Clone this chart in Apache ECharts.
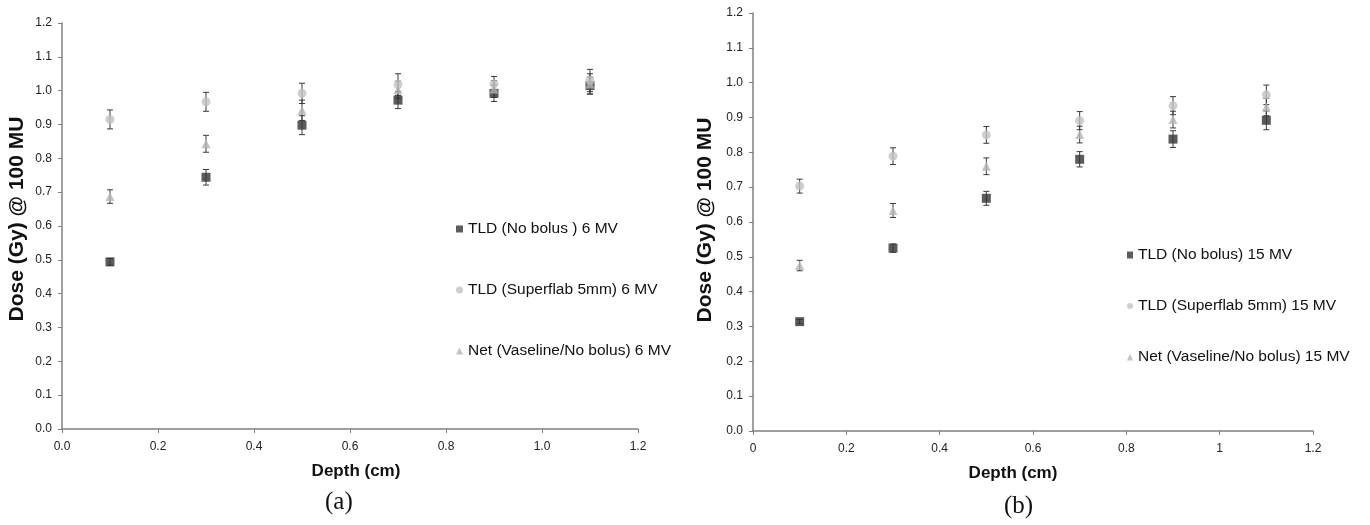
<!DOCTYPE html>
<html>
<head>
<meta charset="utf-8">
<title>Dose vs depth</title>
<script src="https://cdn.jsdelivr.net/npm/echarts@6/dist/echarts.min.js"></script>
<style>
  html, body { margin: 0; padding: 0; background: #fff; }
  #main { width: 1370px; height: 525px; }
</style>
</head>
<body>
<div id="main"></div>
<script>
// depths (cm) shared by both panels
var depth = [0.1, 0.3, 0.5, 0.7, 0.9, 1.1];

// (a) 6 MV
var noBolus6 = [0.494, 0.744, 0.898, 0.972, 0.992, 1.015];
var noBolus6Err = [0.010, 0.023, 0.028, 0.025, 0.024, 0.025];
var superflab6 = [0.915, 0.967, 0.992, 1.018, 1.020, 1.030];
var superflab6Err = [0.028, 0.028, 0.030, 0.032, 0.022, 0.033];
var vaseline6 = [0.687, 0.843, 0.942, 1.003, 1.005, 1.020];
var vaseline6Err = [0.020, 0.025, 0.030, 0.025, 0.025, 0.030];

// (b) 15 MV
var noBolus15 = [0.314, 0.525, 0.668, 0.780, 0.838, 0.892];
var noBolus15Err = [0.006, 0.012, 0.020, 0.022, 0.024, 0.027];
var superflab15 = [0.703, 0.789, 0.850, 0.891, 0.934, 0.965];
var superflab15Err = [0.020, 0.024, 0.024, 0.026, 0.026, 0.028];
var vaseline15 = [0.475, 0.633, 0.760, 0.851, 0.894, 0.930];
var vaseline15Err = [0.015, 0.020, 0.024, 0.024, 0.024, 0.025];

var names6 = ['TLD (No bolus ) 6 MV', 'TLD (Superflab 5mm) 6 MV', 'Net (Vaseline/No bolus) 6 MV'];
var names15 = ['TLD (No bolus) 15 MV', 'TLD (Superflab 5mm) 15 MV', 'Net (Vaseline/No bolus) 15 MV'];

var colSquare = '#333333';
var colCircle = '#c2c2c2';
var colTriangle = '#b4b4b4';
var font = 'Liberation Sans, Arial, sans-serif';

function pts(vals) {
    return depth.map(function (d, i) { return [d, vals[i]]; });
}
function errPts(vals, errs) {
    return depth.map(function (d, i) { return [d, vals[i], errs[i]]; });
}

// vertical error bar with caps
function errorBar(params, api) {
    var x = api.value(0), y = api.value(1), e = api.value(2);
    var top = api.coord([x, y + e]);
    var bot = api.coord([x, y - e]);
    var w = 3;
    var st = { stroke: '#3a3a3a', lineWidth: 1 };
    return {
        type: 'group',
        children: [
            { type: 'line', shape: { x1: top[0], y1: top[1], x2: bot[0], y2: bot[1] }, style: st },
            { type: 'line', shape: { x1: top[0] - w, y1: top[1], x2: top[0] + w, y2: top[1] }, style: st },
            { type: 'line', shape: { x1: bot[0] - w, y1: bot[1], x2: bot[0] + w, y2: bot[1] }, style: st }
        ]
    };
}

function errSeries(idx, vals, errs) {
    return {
        type: 'custom',
        name: 'err',
        xAxisIndex: idx, yAxisIndex: idx,
        renderItem: errorBar,
        encode: { x: 0, y: 1 },
        data: errPts(vals, errs),
        z: 1,
        silent: true
    };
}

function dotSeries(idx, name, vals, symbol, color) {
    return {
        type: 'scatter',
        name: name,
        xAxisIndex: idx, yAxisIndex: idx,
        symbol: symbol,
        symbolSize: 9,
        itemStyle: { color: color },
        data: pts(vals),
        z: 2
    };
}

function xAx(idx, fmt, padding) {
    return {
        gridIndex: idx, type: 'value', min: 0, max: 1.2, interval: 0.2,
        name: 'Depth (cm)', nameLocation: 'middle', nameGap: 34,
        nameTextStyle: { fontFamily: font, fontWeight: 'bold', fontSize: 17, color: '#111', padding: padding },
        axisLine: { lineStyle: { color: '#808080', width: 1.5 } },
        axisTick: { length: 4, lineStyle: { color: '#808080' } },
        axisLabel: { fontFamily: font, fontSize: 12, color: '#222', margin: 12, formatter: fmt },
        splitLine: { show: false }
    };
}

function yAx(idx, gap, padding) {
    return {
        gridIndex: idx, type: 'value', min: 0, max: 1.2, interval: 0.1,
        name: 'Dose (Gy) @ 100 MU', nameLocation: 'middle', nameGap: gap,
        nameTextStyle: { fontFamily: font, fontWeight: 'bold', fontSize: 21, color: '#111', padding: padding },
        axisLine: { show: true, lineStyle: { color: '#808080', width: 1.5 } },
        axisTick: { show: true, length: 4, lineStyle: { color: '#808080' } },
        axisLabel: { fontFamily: font, fontSize: 12, color: '#222', margin: 10,
            formatter: function (v) { return v.toFixed(1); } },
        splitLine: { show: false }
    };
}

function legendOf(names, left, top, gap, w) {
    return {
        orient: 'vertical', left: left, top: top, itemGap: gap,
        itemWidth: w, itemHeight: 7, padding: 0,
        data: [
            { name: names[0], icon: 'rect' },
            { name: names[1], icon: 'circle' },
            { name: names[2], icon: 'triangle' }
        ],
        textStyle: { fontFamily: font, fontSize: 15.5, color: '#111', lineHeight: 16 }
    };
}

var myChart = echarts.init(document.getElementById('main'));
myChart.setOption({
    backgroundColor: '#fff',
    animation: false,
    grid: [
        { left: 62, top: 23, width: 576, height: 406 },
        { left: 753, top: 13, width: 560, height: 418 }
    ],
    xAxis: [
        xAx(0, function (v) { return v.toFixed(1); }, [0, 0, 0, 12]),
        xAx(1, null, [0, 40, 0, 0])
    ],
    yAxis: [yAx(0, 34, [0, 0, 0, 14]), yAx(1, 37, [0, 0, 0, 4])],
    legend: [
        legendOf(names6, 456, 221, 45, 7),
        legendOf(names15, 1127, 247, 35, 6)
    ],
    graphic: [
        { type: 'text', left: 325, top: 490, style: { text: '(a)', font: '25px "Liberation Serif", "Times New Roman", serif', fill: '#111' } },
        { type: 'text', left: 1004, top: 494, style: { text: '(b)', font: '25px "Liberation Serif", "Times New Roman", serif', fill: '#111' } }
    ],
    series: [
        errSeries(0, noBolus6, noBolus6Err),
        errSeries(0, superflab6, superflab6Err),
        errSeries(0, vaseline6, vaseline6Err),
        dotSeries(0, names6[0], noBolus6, 'rect', colSquare),
        dotSeries(0, names6[1], superflab6, 'circle', colCircle),
        dotSeries(0, names6[2], vaseline6, 'triangle', colTriangle),
        errSeries(1, noBolus15, noBolus15Err),
        errSeries(1, superflab15, superflab15Err),
        errSeries(1, vaseline15, vaseline15Err),
        dotSeries(1, names15[0], noBolus15, 'rect', colSquare),
        dotSeries(1, names15[1], superflab15, 'circle', colCircle),
        dotSeries(1, names15[2], vaseline15, 'triangle', colTriangle)
    ]
});
</script>
</body>
</html>
